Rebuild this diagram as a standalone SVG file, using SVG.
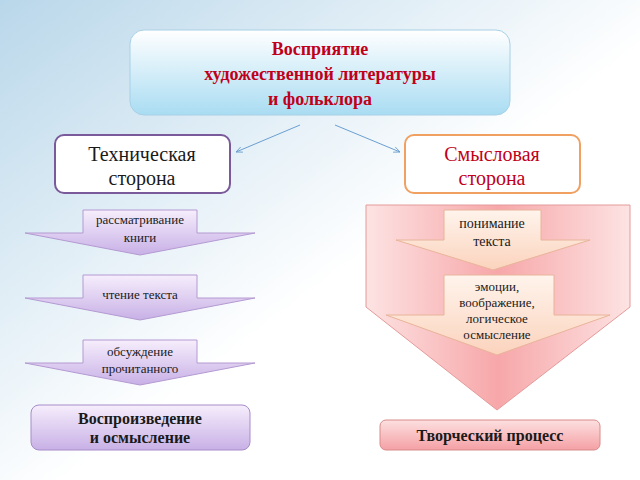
<svg xmlns="http://www.w3.org/2000/svg" width="640" height="480" viewBox="0 0 640 480" font-family="'Liberation Serif', 'DejaVu Serif', serif">
<defs>
<linearGradient id="bg" x1="0" y1="0" x2="1" y2="1"><stop offset="0" stop-color="#b9d7ea"/><stop offset="0.55" stop-color="#ffffff"/><stop offset="1" stop-color="#ffffff"/></linearGradient>
<linearGradient id="top" x1="0" y1="0" x2="0" y2="1"><stop offset="0" stop-color="#ffffff"/><stop offset="1" stop-color="#a9dcf2"/></linearGradient>
<linearGradient id="vio" x1="0" y1="0" x2="0" y2="1"><stop offset="0" stop-color="#f6eefc"/><stop offset="1" stop-color="#c8b0e6"/></linearGradient>
<linearGradient id="pinkbig" x1="0" y1="0" x2="1" y2="0"><stop offset="0" stop-color="#fde3e3"/><stop offset="0.5" stop-color="#f7a7a9"/><stop offset="1" stop-color="#fde3e3"/></linearGradient>
<linearGradient id="peach" x1="0" y1="0" x2="0" y2="1"><stop offset="0" stop-color="#fff4ec"/><stop offset="1" stop-color="#fbd3bd"/></linearGradient>
<linearGradient id="pinkbox" x1="0" y1="0" x2="0" y2="1"><stop offset="0" stop-color="#fde0e0"/><stop offset="1" stop-color="#f4a0a4"/></linearGradient>
<marker id="ah" viewBox="0 0 10 10" refX="9" refY="5" markerWidth="7" markerHeight="7" orient="auto"><path d="M0,1 L9,5 L0,9" fill="none" stroke="#6a9fd0" stroke-width="1.2"/></marker>
</defs>
<style>
text{font-family:'Liberation Serif','DejaVu Serif',serif;text-anchor:middle;fill:#1a1a1a}
.b{font-weight:bold}
.red{fill:#c0001a}
.sm{font-size:13px}
</style>
<rect width="640" height="480" fill="url(#bg)"/>
<g id="connectors">
<line x1="300" y1="125" x2="236" y2="152" stroke="#6a9fd0" stroke-width="1" marker-end="url(#ah)"/>
<line x1="335" y1="125" x2="400" y2="152" stroke="#6a9fd0" stroke-width="1" marker-end="url(#ah)"/>
</g>
<g id="title">
<rect x="130" y="30" width="380" height="85" rx="14" fill="url(#top)" stroke="#a8d0e6"/>
<text class="b red" x="320" y="55" font-size="18">Восприятие</text>
<text class="b red" x="320" y="80" font-size="18">художественной литературы</text>
<text class="b red" x="320" y="105" font-size="18">и фольклора</text>
</g>
<g id="tech">
<rect x="55" y="135" width="175" height="58" rx="9" fill="#fff" stroke="#7a5a9a" stroke-width="2"/>
<text x="142" y="161" font-size="20">Техническая</text>
<text x="142" y="185" font-size="20">сторона</text>
</g>
<g id="sense">
<rect x="405" y="135" width="175" height="58" rx="9" fill="#fff" stroke="#f0a060" stroke-width="2"/>
<text x="492" y="161" font-size="20" style="fill:#c0001a">Смысловая</text>
<text x="492" y="185" font-size="20" style="fill:#c0001a">сторона</text>
</g>
<g id="a1">
<path d="M83,210 H197 V233 H255 L140,255 L25,233 H83 Z" fill="url(#vio)" stroke="#b49ad2"/>
<text class="sm" x="140" y="224">рассматривание</text>
<text class="sm" x="140" y="242">книги</text>
</g>
<g id="a2">
<path d="M83,275 H197 V298 H255 L140,320 L25,298 H83 Z" fill="url(#vio)" stroke="#b49ad2"/>
<text class="sm" x="140" y="299">чтение текста</text>
</g>
<g id="a3">
<path d="M83,340 H197 V363 H255 L140,385 L25,363 H83 Z" fill="url(#vio)" stroke="#b49ad2"/>
<text class="sm" x="140" y="356">обсуждение</text>
<text class="sm" x="140" y="373">прочитанного</text>
</g>
<g id="reprod">
<rect x="31" y="405" width="219" height="45" rx="8" fill="url(#vio)" stroke="#a78cc8"/>
<text class="b" x="140" y="424" font-size="16">Воспроизведение</text>
<text class="b" x="140" y="443" font-size="16">и осмысление</text>
</g>
<g id="bigarrow">
<path d="M366,205 H630 V307 L497,410 L366,307 Z" fill="url(#pinkbig)" stroke="#e59a9a"/>
</g>
<g id="a4">
<path d="M444,210 H541 V240 H590 L493,270 L396,240 H444 Z" fill="url(#peach)" stroke="#e8b49a"/>
<text x="492" y="228" font-size="14">понимание</text>
<text x="492" y="246" font-size="14">текста</text>
</g>
<g id="a5">
<path d="M444,275 H554 V315 H610 L497,355 L386,315 H444 Z" fill="url(#peach)" stroke="#e8b49a"/>
<text class="sm" x="497" y="291">эмоции,</text>
<text class="sm" x="497" y="307">воображение,</text>
<text class="sm" x="497" y="323">логическое</text>
<text class="sm" x="497" y="339">осмысление</text>
</g>
<g id="creative">
<rect x="380" y="420" width="220" height="30" rx="6" fill="url(#pinkbox)" stroke="#d88a8a"/>
<text class="b" x="490" y="441" font-size="16">Творческий процесс</text>
</g>
</svg>
